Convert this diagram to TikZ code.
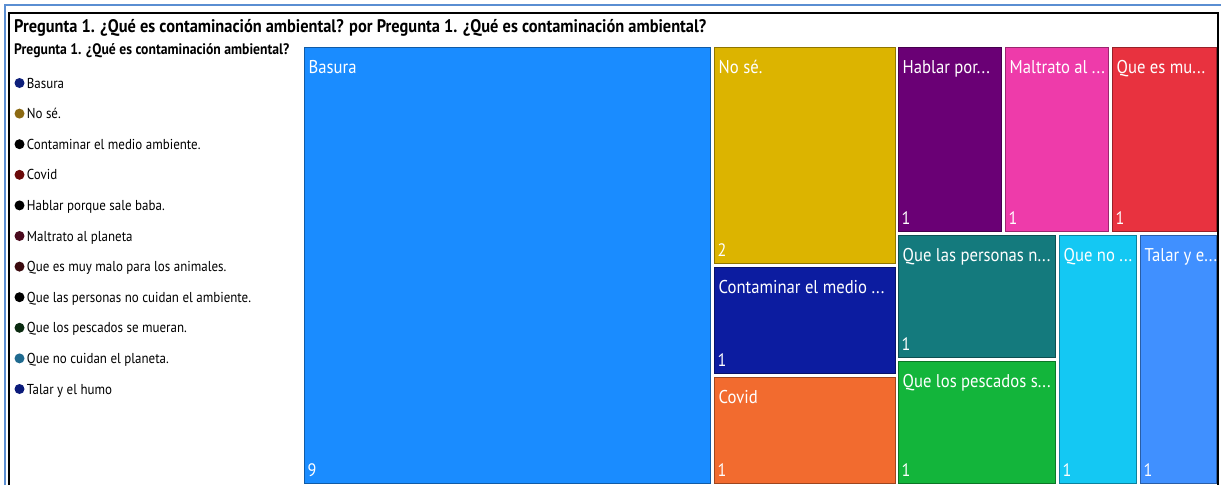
\documentclass[tikz,border=0pt]{standalone}
\usepackage{fontspec}
\setmainfont{PT Sans}[FakeStretch=0.9]
\usetikzlibrary{positioning}
\usepackage{xcolor}

\definecolor{cBasura}{HTML}{1A8CFF}
\definecolor{cNose}{HTML}{DCB400}
\definecolor{cContam}{HTML}{0C1CA0}
\definecolor{cCovid}{HTML}{F26B2F}
\definecolor{cHablar}{HTML}{6A0075}
\definecolor{cMaltrato}{HTML}{EE3BAA}
\definecolor{cQuees}{HTML}{E8323F}
\definecolor{cPersonas}{HTML}{147A7D}
\definecolor{cPescados}{HTML}{13B53B}
\definecolor{cQueno}{HTML}{14C8F3}
\definecolor{cTalar}{HTML}{4090FF}
\definecolor{cEdge}{HTML}{5A8ED2}
% legend dots
\definecolor{dBasura}{HTML}{0E1F7A}
\definecolor{dNose}{HTML}{8C6A12}
\definecolor{dCovid}{HTML}{6B0A0A}
\definecolor{dMaltrato}{HTML}{4A0A1E}
\definecolor{dQuees}{HTML}{3A0A0E}
\definecolor{dPescados}{HTML}{0A2A10}
\definecolor{dQueno}{HTML}{1F6A8F}
\definecolor{dTalar}{HTML}{0A1A7A}

\begin{document}
\begin{tikzpicture}[
    x=1pt, y=-1pt,
    node distance=30.6pt,
    tile/.style={draw=#1!65!black, fill=#1, line width=1.4pt, rectangle, anchor=north west, inner sep=0pt},
    lbl/.style={anchor=base west, text=white, inner sep=0pt, font=\fontsize{18.5}{20}\selectfont},
    num/.style={anchor=base west, text=white, inner sep=0pt, font=\fontsize{18}{20}\selectfont},
    dot/.style={circle, fill=#1, minimum size=10pt, inner sep=0pt},
    leg/.style={anchor=base west, inner sep=0pt, font=\fontsize{14.4}{16}\selectfont}
]
\useasboundingbox (0,0) rectangle (1221,485);
\fill[white] (0,0) rectangle (1221,485);

% frame
\draw[cEdge, line width=2pt] (5,485) -- (5,5) -- (1221,5);
\draw[black, line width=1.6pt] (9,485) -- (9,13) -- (1218,13) -- (1218,485);

\node (title) [anchor=base west, inner sep=0pt, font=\bfseries\fontsize{18.2}{20}\selectfont] at (14,32)
    {Pregunta 1. ¿Qué es contaminación ambiental? por Pregunta 1. ¿Qué es contaminación ambiental?};

% legend
\node (leghead) [anchor=base west, inner sep=0pt, font=\bfseries\fontsize{15.2}{17}\selectfont] at (14,54)
    {Pregunta 1. ¿Qué es contaminación ambiental?};
\node (d1) [dot=dBasura] at (19.5,83) {};
\node (d2) [dot=dNose, below of=d1] {};
\node (d3) [dot=black, below of=d2] {};
\node (d4) [dot=dCovid, below of=d3] {};
\node (d5) [dot=black, below of=d4] {};
\node (d6) [dot=dMaltrato, below of=d5] {};
\node (d7) [dot=dQuees, below of=d6] {};
\node (d8) [dot=black, below of=d7] {};
\node (d9) [dot=dPescados, below of=d8] {};
\node (d10) [dot=dQueno, below of=d9] {};
\node (d11) [dot=dTalar, below of=d10] {};
\node (l1) [leg] at ([shift={(2,5)}]d1.east) {Basura};
\node (l2) [leg] at ([shift={(2,5)}]d2.east) {No sé.};
\node (l3) [leg] at ([shift={(2,5)}]d3.east) {Contaminar el medio ambiente.};
\node (l4) [leg] at ([shift={(2,5)}]d4.east) {Covid};
\node (l5) [leg] at ([shift={(2,5)}]d5.east) {Hablar porque sale baba.};
\node (l6) [leg] at ([shift={(2,5)}]d6.east) {Maltrato al planeta};
\node (l7) [leg] at ([shift={(2,5)}]d7.east) {Que es muy malo para los animales.};
\node (l8) [leg] at ([shift={(2,5)}]d8.east) {Que las personas no cuidan el ambiente.};
\node (l9) [leg] at ([shift={(2,5)}]d9.east) {Que los pescados se mueran.};
\node (l10) [leg] at ([shift={(2,5)}]d10.east) {Que no cuidan el planeta.};
\node (l11) [leg] at ([shift={(2,5)}]d11.east) {Talar y el humo};

% treemap
\node (basura) [tile=cBasura, minimum width=406, minimum height=436] at (303.5,46.5) {};
\node (nose) [tile=cNose, minimum width=181, minimum height=216] at (713.5,46.5) {};
\node (contam) [tile=cContam, minimum width=181, minimum height=106] at (713.5,266.5) {};
\node (covid) [tile=cCovid, minimum width=181, minimum height=106] at (713.5,376.5) {};
\node (hablar) [tile=cHablar, minimum width=103, minimum height=184] at (897.5,46.5) {};
\node (maltrato) [tile=cMaltrato, minimum width=103, minimum height=184] at (1004.5,46.5) {};
\node (quees) [tile=cQuees, minimum width=104, minimum height=184] at (1111.5,46.5) {};
\node (personas) [tile=cPersonas, minimum width=157, minimum height=122] at (897.5,234.5) {};
\node (pescados) [tile=cPescados, minimum width=157, minimum height=122] at (897.5,360.5) {};
\node (queno) [tile=cQueno, minimum width=77, minimum height=248] at (1058.5,234.5) {};
\node (talar) [tile=cTalar, minimum width=76, minimum height=248] at (1139.5,234.5) {};

\node (basuraL) [lbl] at ([shift={(5,27)}]basura.north west) {Basura};
\node (noseL) [lbl] at ([shift={(5,27)}]nose.north west) {No sé.};
\node (contamL) [lbl] at ([shift={(5,27)}]contam.north west) {Contaminar el medio ...};
\node (covidL) [lbl] at ([shift={(5,27)}]covid.north west) {Covid};
\node (hablarL) [lbl] at ([shift={(5,27)}]hablar.north west) {Hablar por...};
\node (maltratoL) [lbl] at ([shift={(5,27)}]maltrato.north west) {Maltrato al ...};
\node (queesL) [lbl] at ([shift={(5,27)}]quees.north west) {Que es mu...};
\node (personasL) [lbl] at ([shift={(5,27)}]personas.north west) {Que las personas n...};
\node (pescadosL) [lbl] at ([shift={(5,27)}]pescados.north west) {Que los pescados s...};
\node (quenoL) [lbl] at ([shift={(5,27)}]queno.north west) {Que no ...};
\node (talarL) [lbl] at ([shift={(5,27)}]talar.north west) {Talar y e...};

\node (basuraN) [num] at ([shift={(4,-7)}]basura.south west) {9};
\node (noseN) [num] at ([shift={(4,-7)}]nose.south west) {2};
\node (contamN) [num] at ([shift={(4,-7)}]contam.south west) {1};
\node (covidN) [num] at ([shift={(4,-7)}]covid.south west) {1};
\node (hablarN) [num] at ([shift={(4,-7)}]hablar.south west) {1};
\node (maltratoN) [num] at ([shift={(4,-7)}]maltrato.south west) {1};
\node (queesN) [num] at ([shift={(4,-7)}]quees.south west) {1};
\node (personasN) [num] at ([shift={(4,-7)}]personas.south west) {1};
\node (pescadosN) [num] at ([shift={(4,-7)}]pescados.south west) {1};
\node (quenoN) [num] at ([shift={(4,-7)}]queno.south west) {1};
\node (talarN) [num] at ([shift={(4,-7)}]talar.south west) {1};
\end{tikzpicture}
\end{document}
